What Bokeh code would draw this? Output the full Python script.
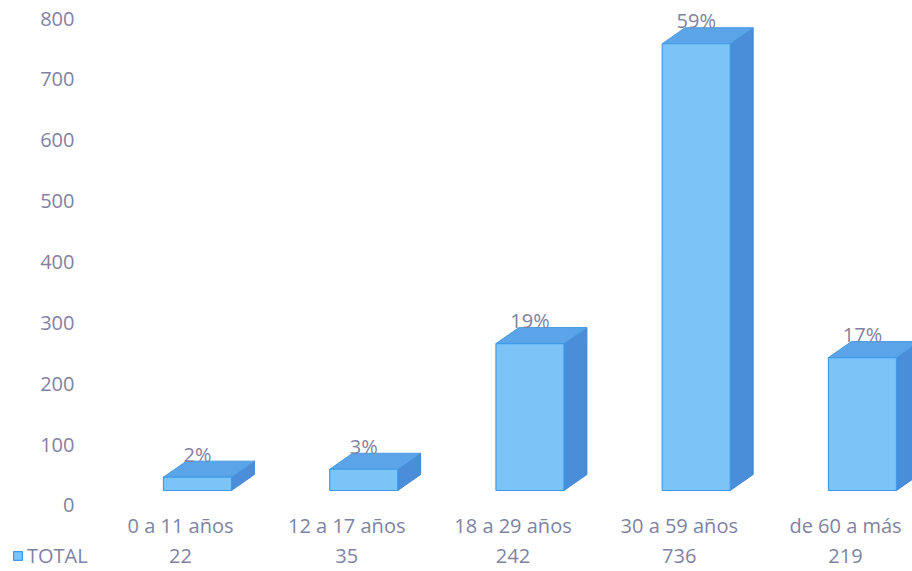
from bokeh.plotting import figure
from bokeh.models import Range1d, LinearAxis, FixedTicker, Legend, LegendItem
from bokeh.core.properties import value
from bokeh.embed import file_html
from bokeh.resources import INLINE

# ---- data ----
categories = ["0 a 11 años", "12 a 17 años", "18 a 29 años", "30 a 59 años", "de 60 a más"]
totals = [22, 35, 242, 736, 219]
pct_labels = ["2%", "3%", "19%", "59%", "17%"]
yticks = [0, 100, 200, 300, 400, 500, 600, 700, 800]
series_name = "TOTAL"

# ---- style ----
FONT = "Open Sans"
TXT = "#7f83a3"
FRONT = "#7cc4f6"
EDGE = "#3f9ceb"
TOPC = "#5ca4e8"
SIDE = "#4a8dd8"
FS = "20px"

# frame covers the whole canvas; x index i -> 180 + 166.25*i px
p = figure(width=912, height=571, output_backend="svg", toolbar_location=None,
           x_axis_location=None, y_axis_location=None, title=None,
           x_range=Range1d(-1.0827, 4.4030), y_range=Range1d(-133.44, 807.25),
           min_border_left=0, min_border_right=0, min_border_top=0, min_border_bottom=0,
           outline_line_color=None, background_fill_color="white", border_fill_color="white")
p.grid.visible = False

p.extra_y_ranges = {"ax": Range1d(-108.42, 829.57)}
ax = LinearAxis(y_range_name="ax", ticker=FixedTicker(ticks=yticks),
                axis_line_color=None, major_tick_line_color=None, minor_tick_line_color=None,
                major_tick_out=0, major_tick_in=0,
                major_label_text_font=FONT, major_label_text_font_size=FS,
                major_label_text_color=TXT, major_label_standoff=-74)
p.add_layout(ax, "left")

# 3D bar geometry (in data units)
offs = 0.102
w = 0.409
dx = 0.138
dy = 26.36

n = len(totals)
lefts = [i + offs - w / 2 for i in range(n)]
rights = [i + offs + w / 2 for i in range(n)]

side_xs = [[r, r + dx, r + dx, r] for r in rights]
side_ys = [[0, dy, v + dy, v] for v in totals]
top_xs = [[l, r, r + dx, l + dx] for l, r in zip(lefts, rights)]
top_ys = [[v, v, v + dy, v + dy] for v in totals]

p.patches(xs=side_xs, ys=side_ys, fill_color=SIDE, line_color="#3f86d6", line_width=1)
p.patches(xs=top_xs, ys=top_ys, fill_color=TOPC, line_color="#4a9ae6", line_width=1)
front = p.quad(left=lefts, right=rights, bottom=0, top=totals,
               fill_color=FRONT, line_color=EDGE, line_width=1.2)

# percentage labels above bars
p.text(x=[i + offs for i in range(n)], y=[v + dy + 11.5 for v in totals], text=pct_labels,
       text_align="center", text_baseline="middle", text_font=value(FONT),
       text_font_size=FS, text_color=TXT)

# data table rows
p.text(x=list(range(n)), y=[-57.66] * n, text=categories,
       text_align="center", text_baseline="middle", text_font=value(FONT),
       text_font_size=FS, text_color=TXT)
p.text(x=list(range(n)), y=[-108.7] * n, text=[str(v) for v in totals],
       text_align="center", text_baseline="middle", text_font=value(FONT),
       text_font_size=FS, text_color=TXT)

legend = Legend(items=[LegendItem(label=series_name, renderers=[front])],
                location=(12, 2), padding=0, margin=0, spacing=0,
                glyph_width=11, glyph_height=11, label_standoff=4,
                label_text_font=FONT, label_text_font_size=FS, label_text_color=TXT,
                border_line_color=None, background_fill_alpha=0)
p.add_layout(legend)

open("out.html", "w").write(file_html(p, INLINE))
